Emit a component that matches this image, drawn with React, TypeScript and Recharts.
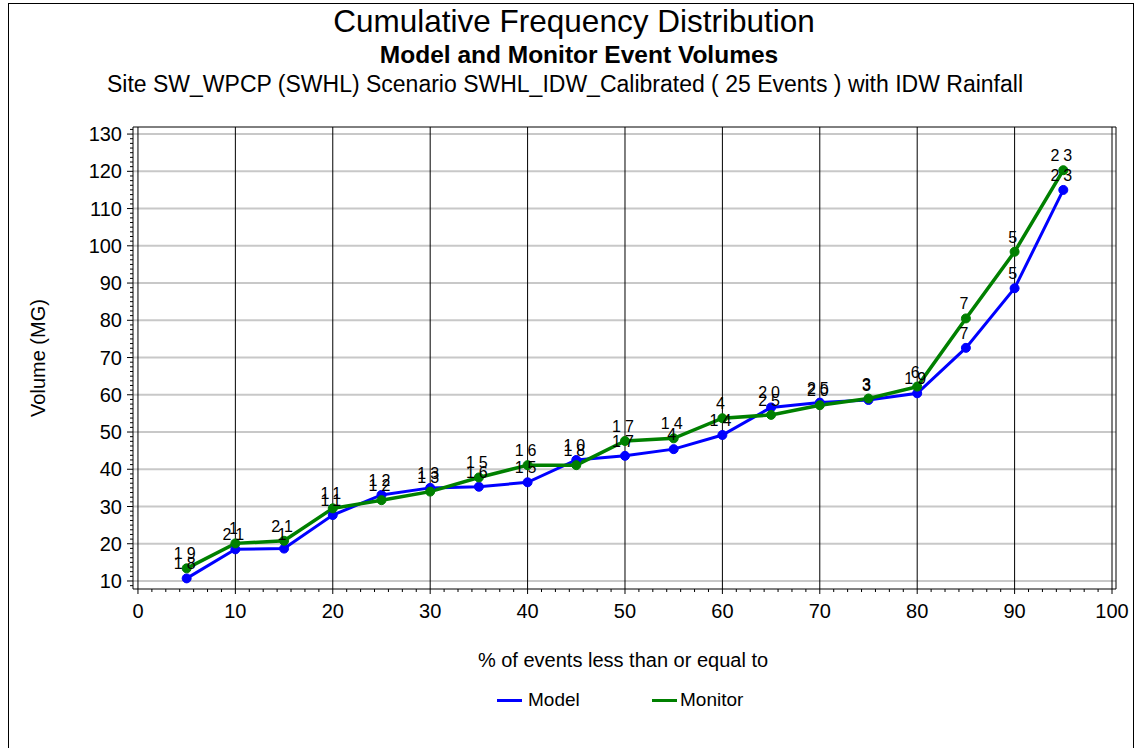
import React from 'react';
import { LineChart, Line, XAxis, YAxis, ReferenceLine, LabelList } from 'recharts';

// percent of events (x) and event volumes in MG (y)
const PCT = [5, 10, 15, 20, 25, 30, 35, 40, 45, 50, 55, 60, 65, 70, 75, 80, 85, 90, 95];
const MODEL = [10.7, 18.5, 18.7, 27.7, 33.1, 35.0, 35.3, 36.5, 42.5, 43.6, 45.4, 49.2, 56.6, 57.9, 58.6, 60.4, 72.6, 88.6, 115.0];
const MONITOR = [13.4, 20.1, 20.8, 29.5, 31.7, 34.0, 37.8, 41.1, 41.1, 47.6, 48.3, 53.7, 54.6, 57.2, 59.0, 62.2, 80.5, 98.4, 120.3];
// event numbers printed over each point
const MODEL_EVENT = ['18', '21', '1', '11', '12', '13', '16', '15', '10', '17', '4', '14', '20', '25', '3', '19', '7', '5', '23'];
const MONITOR_EVENT = ['19', '1', '21', '11', '12', '13', '15', '16', '18', '17', '14', '4', '25', '20', '3', '6', '7', '5', '23'];

const X_LABELS = [0, 10, 20, 30, 40, 50, 60, 70, 80, 90, 100];
const Y_LABELS = [10, 20, 30, 40, 50, 60, 70, 80, 90, 100, 110, 120, 130];

const X_MIN = -0.51;
const X_MAX = 100.41;
const Y_MIN = 7.85;
const Y_MAX = 131.9;

// minor tick marks: 7 per decade on x, 8 per decade on y
const X_TICKS = Array.from({ length: 71 }, (_, i) => (i * 10) / 7);
const Y_TICKS = Array.from({ length: 99 }, (_, i) => 8.75 + i * 1.25).filter(v => v <= Y_MAX);

const data = PCT.map((p, i) => ({
  pct: p,
  model: MODEL[i],
  monitor: MONITOR[i],
  modelEvent: MODEL_EVENT[i],
  monitorEvent: MONITOR_EVENT[i],
}));

const FONT = '"Liberation Sans", Arial, sans-serif';
const isMajor = (v: number) => Math.abs(v / 10 - Math.round(v / 10)) < 1e-6;

const XTick = (props: any) => {
  const { x, y, payload } = props;
  const major = isMajor(payload.value);
  return (
    <g>
      <line x1={x} x2={x} y1={y} y2={y + (major ? 5 : 3)} stroke="#000" strokeWidth={1} />
      {major && (
        <text x={x} y={y + 29} textAnchor="middle" fontSize={20} fontFamily={FONT} fill="#000">
          {Math.round(payload.value)}
        </text>
      )}
    </g>
  );
};

const YTick = (props: any) => {
  const { x, y, payload } = props;
  const major = isMajor(payload.value);
  return (
    <g>
      <line x1={x - (major ? 6 : 3)} x2={x} y1={y} y2={y} stroke="#000" strokeWidth={1} />
      {major && (
        <text x={x - 11} y={y + 7} textAnchor="end" fontSize={20} fontFamily={FONT} fill="#000">
          {Math.round(payload.value)}
        </text>
      )}
    </g>
  );
};

const pointLabel = { fontSize: 16, fontFamily: FONT, fill: '#000', letterSpacing: 4 };

const abs = (left: number, top: number): React.CSSProperties => ({
  position: 'absolute',
  left: left - 9,
  top: top - 4,
  fontFamily: FONT,
  color: '#000',
  whiteSpace: 'nowrap',
});

export default function App() {
  return (
    <div
      style={{
        position: 'absolute',
        left: 8,
        top: 3,
        width: 1124,
        height: 744,
        borderLeft: '1px solid #000',
        borderTop: '1px solid #000',
        borderRight: '1px solid #000',
        background: '#fff',
      }}
    >
      <div style={{ ...abs(9, 6), width: 1124, left: 3, textAlign: 'center', fontSize: 31.5, lineHeight: '31px' }}>
        Cumulative Frequency Distribution
      </div>
      <div style={{ ...abs(9, 43), width: 1124, left: 8, textAlign: 'center', fontSize: 24.5, lineHeight: '24px', fontWeight: 'bold' }}>
        Model and Monitor Event Volumes
      </div>
      <div style={{ ...abs(9, 73), width: 1124, left: -6, textAlign: 'center', fontSize: 23, lineHeight: '23px' }}>
        Site SW_WPCP (SWHL) Scenario SWHL_IDW_Calibrated ( 25 Events ) with IDW Rainfall
      </div>

      <LineChart
        width={1124}
        height={744}
        data={data}
        margin={{ top: 123, right: 17, bottom: 129, left: 64 }}
      >
        <XAxis
          dataKey="pct"
          type="number"
          domain={[X_MIN, X_MAX]}
          allowDataOverflow
          ticks={X_TICKS}
          interval={0}
          tick={<XTick />}
          tickLine={false}
          tickSize={0}
          tickMargin={0}
          axisLine={{ stroke: '#000', strokeWidth: 1 }}
          height={30}
        />
        <YAxis
          type="number"
          domain={[Y_MIN, Y_MAX]}
          allowDataOverflow
          ticks={Y_TICKS}
          interval={0}
          tick={<YTick />}
          tickLine={false}
          tickSize={0}
          tickMargin={0}
          axisLine={{ stroke: '#000', strokeWidth: 1 }}
          width={60}
        />

        {Y_LABELS.map(v => (
          <ReferenceLine key={'h' + v} y={v} stroke="#c8c8c8" strokeWidth={2} />
        ))}
        {X_LABELS.slice(1, -1).map(v => (
          <ReferenceLine key={'v' + v} x={v} stroke="#000" strokeWidth={1} />
        ))}
        <ReferenceLine x={0} stroke="#000" strokeWidth={1} />
        <ReferenceLine x={100} stroke="#000" strokeWidth={1} />
        <ReferenceLine x={X_MAX} stroke="#000" strokeWidth={1} />
        <ReferenceLine y={Y_MAX} stroke="#000" strokeWidth={1} />

        <Line
          dataKey="model"
          stroke="#0000ff"
          strokeWidth={3}
          dot={{ r: 4.5, fill: '#0000ff', stroke: '#0000ff', strokeWidth: 1 }}
          isAnimationActive={false}
        >
          <LabelList dataKey="modelEvent" position="top" offset={9} style={pointLabel} />
        </Line>
        <Line
          dataKey="monitor"
          stroke="#008000"
          strokeWidth={3.5}
          dot={{ r: 4.5, fill: '#008000', stroke: '#008000', strokeWidth: 1 }}
          isAnimationActive={false}
        >
          <LabelList dataKey="monitorEvent" position="top" offset={9} style={pointLabel} />
        </Line>
      </LineChart>

      <div
        style={{
          ...abs(38, 358),
          fontSize: 20,
          lineHeight: '20px',
          transform: 'translate(-50%, -50%) rotate(-90deg)',
        }}
      >
        Volume (MG)
      </div>
      <div style={{ ...abs(0, 650), width: 1124, left: 614 - 562, textAlign: 'center', fontSize: 20, lineHeight: '20px' }}>
        % of events less than or equal to
      </div>

      <div style={{ ...abs(497, 699), width: 25, height: 3, background: '#0000ff' }} />
      <div style={{ ...abs(528, 690), fontSize: 19, lineHeight: '20px' }}>Model</div>
      <div style={{ ...abs(652, 699), width: 25, height: 3, background: '#008000' }} />
      <div style={{ ...abs(680, 690), fontSize: 19, lineHeight: '20px' }}>Monitor</div>
    </div>
  );
}
